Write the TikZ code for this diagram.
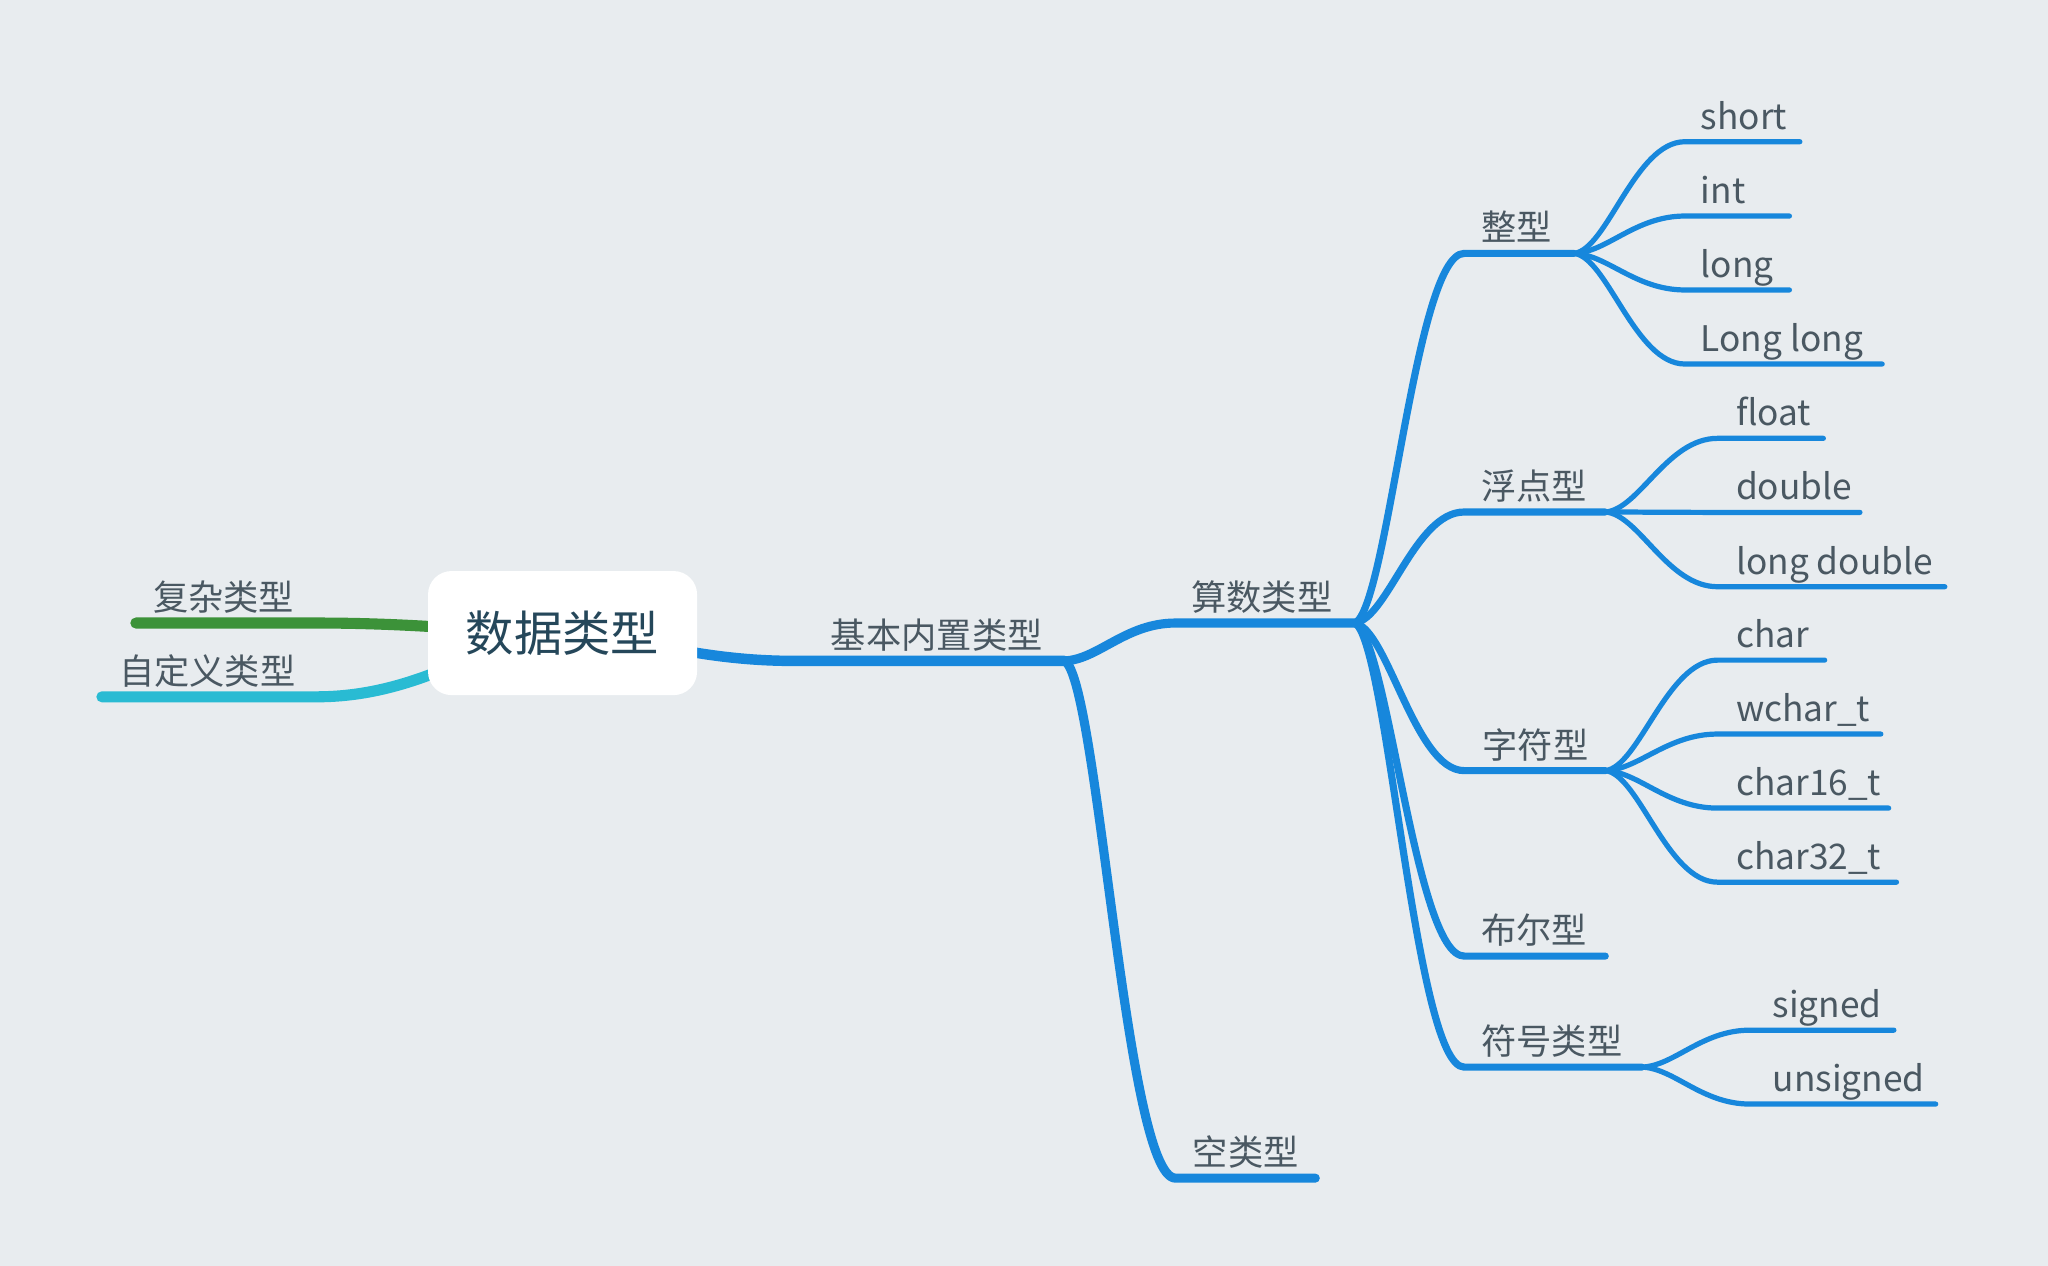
\documentclass[tikz,border=0pt]{standalone}
\usepackage{fontspec}
\setmainfont{Noto Sans CJK SC}
\usetikzlibrary{calc}
\pgfdeclarelayer{back}
\pgfdeclarelayer{bg}
\pgfsetlayers{back,bg,main}
\definecolor{bgc}{HTML}{E8ECEF}
\definecolor{mmblue}{HTML}{1787DC}
\definecolor{mmgreen}{HTML}{3C9239}
\definecolor{mmcyan}{HTML}{29BBD3}
\definecolor{txtc}{HTML}{4A5862}
\definecolor{roottxt}{HTML}{25475A}
\tikzset{
  lbl/.style={anchor=base west, inner sep=0pt, text=txtc, font=\fontsize{27}{27}\selectfont},
  rootbox/.style={fill=white, rounded corners=18pt, minimum width=206pt, minimum height=95pt,
    text=roottxt, font=\fontsize{37}{37}\selectfont, inner sep=0pt},
  conn/.style={line cap=round, line join=round, draw=mmblue},
  wroot/.style={conn, line width=8pt},
  wmain/.style={conn, line width=7pt},
  wsub/.style={conn, line width=5.5pt},
  wleaf/.style={conn, line width=4pt},
  wgreen/.style={conn, draw=mmgreen, line width=8.5pt},
  wcyan/.style={conn, draw=mmcyan, line width=8.5pt},
}
% #1 style, #2 parent point, #3 start of underline, #4 end of underline
\newcommand\mmlink[4]{%
  \draw[#1] let \p1=(#2), \p2=(#3) in (\p1)
    .. controls ({\x1+0.3*(\x2-\x1)},{\y1+0.03*(\y2-\y1)}) and ({\x1+0.55*(\x2-\x1)},{\y2}) .. (\p2) -- (#4);}
% #1 name, #2 x start, #3 x end, #4 y line, #5 label x, #6 text
\newcommand\mmtopic[6]{%
  \coordinate (#1-s) at (#2,#4);
  \coordinate (#1-e) at (#3,#4);
  \node[lbl] (#1) at (#5,#4-9.5) {#6};}
\begin{document}
\begin{tikzpicture}[x=1pt,y=-1pt]
\begin{pgfonlayer}{back}
\fill[bgc] (0,0) rectangle (1568,969);
\end{pgfonlayer}
\useasboundingbox (0,0) rectangle (1568,969);

\node[rootbox] (root) at (430.7,484.7) {数据类型};

% left side
\mmtopic{fz}{242}{104}{477}{117}{复杂类型}
\mmtopic{zd}{242}{78}{533.5}{91}{自定义类型}
% level 1
\mmtopic{jb}{608}{815}{506}{636}{基本内置类型}
% level 2
\mmtopic{ss}{900}{1037}{477}{912}{算数类型}
\mmtopic{kl}{900}{1007}{902}{913}{空类型}
% level 3
\mmtopic{zx}{1121}{1205}{194}{1134}{整型}
\mmtopic{fd}{1121}{1229}{392}{1134}{浮点型}
\mmtopic{zf}{1121}{1229}{590}{1135}{字符型}
\mmtopic{be}{1121}{1229}{732}{1134}{布尔型}
\mmtopic{fh}{1121}{1257}{817}{1134}{符号类型}
% leaves
\mmtopic{short}{1290}{1378}{108.5}{1302}{short}
\mmtopic{int}{1290}{1370}{165.4}{1302}{int}
\mmtopic{long}{1290}{1370}{222}{1302}{long}
\mmtopic{llong}{1290}{1441}{278.7}{1302}{Long long}
\mmtopic{float}{1315}{1396}{335.6}{1329}{float}
\mmtopic{double}{1315}{1424}{392.3}{1329}{double}
\mmtopic{ldouble}{1315}{1489}{449.2}{1329}{long double}
\mmtopic{char}{1315}{1397}{505.4}{1329}{char}
\mmtopic{wchar}{1315}{1440}{562}{1329}{wchar\_t}
\mmtopic{chsix}{1315}{1446}{618.7}{1329}{char16\_t}
\mmtopic{chtt}{1315}{1452}{675.4}{1329}{char32\_t}
\mmtopic{signed}{1340}{1450}{788.7}{1357}{signed}
\mmtopic{unsigned}{1340}{1482}{845.3}{1357}{unsigned}

\begin{pgfonlayer}{bg}
\mmlink{wgreen}{root.center}{fz-s}{fz-e}
\mmlink{wcyan}{root.center}{zd-s}{zd-e}
\mmlink{wroot}{root.center}{jb-s}{jb-e}
\mmlink{wmain}{jb-e}{ss-s}{ss-e}
\mmlink{wmain}{jb-e}{kl-s}{kl-e}
\mmlink{wsub}{ss-e}{zx-s}{zx-e}
\mmlink{wsub}{ss-e}{fd-s}{fd-e}
\mmlink{wsub}{ss-e}{zf-s}{zf-e}
\mmlink{wsub}{ss-e}{be-s}{be-e}
\mmlink{wsub}{ss-e}{fh-s}{fh-e}
\mmlink{wleaf}{zx-e}{short-s}{short-e}
\mmlink{wleaf}{zx-e}{int-s}{int-e}
\mmlink{wleaf}{zx-e}{long-s}{long-e}
\mmlink{wleaf}{zx-e}{llong-s}{llong-e}
\mmlink{wleaf}{fd-e}{float-s}{float-e}
\mmlink{wleaf}{fd-e}{double-s}{double-e}
\mmlink{wleaf}{fd-e}{ldouble-s}{ldouble-e}
\mmlink{wleaf}{zf-e}{char-s}{char-e}
\mmlink{wleaf}{zf-e}{wchar-s}{wchar-e}
\mmlink{wleaf}{zf-e}{chsix-s}{chsix-e}
\mmlink{wleaf}{zf-e}{chtt-s}{chtt-e}
\mmlink{wleaf}{fh-e}{signed-s}{signed-e}
\mmlink{wleaf}{fh-e}{unsigned-s}{unsigned-e}
\end{pgfonlayer}
\end{tikzpicture}
\end{document}
